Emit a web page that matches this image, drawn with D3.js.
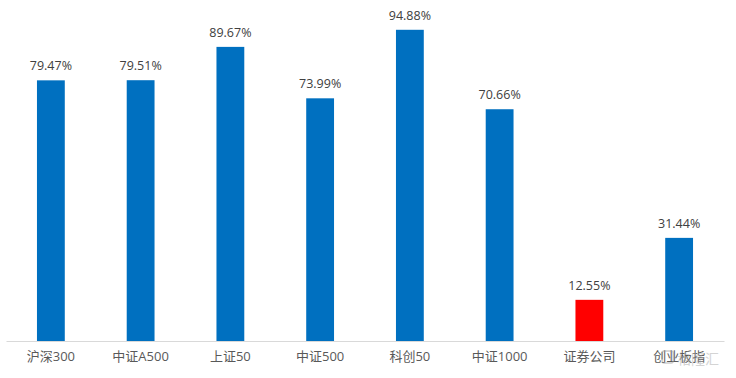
<!DOCTYPE html>
<html>
<head>
<meta charset="utf-8">
<script src="https://cdn.jsdelivr.net/npm/d3@7"></script>
<style>
  body { margin: 0; background: #fff; }
  text { font-family: "Open Sans", "Noto Sans CJK SC", sans-serif; }
</style>
</head>
<body>
<div class="chart"></div>
<script>
//Width and height
var w = 736;
var h = 378;

//Data
var categories = ["沪深300", "中证A500", "上证50", "中证500", "科创50", "中证1000", "证券公司", "创业板指"];
var values = [79.47, 79.51, 89.67, 73.99, 94.88, 70.66, 12.55, 31.44];
var highlight = ["证券公司"];

//Scales
var x = d3.scaleBand()
          .domain(categories)
          .range([6, 724])
          .paddingInner(0.69)
          .paddingOuter(0.345);

var y = d3.scaleLinear()
          .domain([0, 100])
          .range([341, 13]);

//Create SVG element
var svg = d3.select(".chart")
            .append("svg")
            .attr("width", w)
            .attr("height", h);

//Bars
svg.selectAll("rect")
  .data(values)
  .enter()
  .append("rect")
  .attr("x", function(d, i) { return x(categories[i]); })
  .attr("y", function(d) { return y(d); })
  .attr("width", x.bandwidth())
  .attr("height", function(d) { return y(0) - y(d); })
  .style("fill", function(d, i) {
    return highlight.indexOf(categories[i]) >= 0 ? "#ff0000" : "#0070c0";
  });

//Value labels
svg.selectAll("text.val")
  .data(values)
  .enter()
  .append("text")
  .attr("class", "val")
  .attr("x", function(d, i) { return x(categories[i]) + x.bandwidth() / 2; })
  .attr("y", function(d) { return y(d) - 10; })
  .attr("text-anchor", "middle")
  .style("font-size", "12.5px")
  .style("fill", "#404040")
  .text(function(d) { return d.toFixed(2) + "%"; });

//X axis
var xAxis = d3.axisBottom(x).tickSize(0).tickPadding(11);
var gx = svg.append("g")
  .attr("transform", "translate(0," + y(0) + ")")
  .call(xAxis);
gx.select(".domain").attr("stroke", "#d9d9d9").attr("stroke-width", 1.2);
gx.selectAll("text")
  .style("font-size", "13px")
  .style("fill", "#595959")
  .style("font-family", "'Open Sans', 'Noto Sans CJK SC', sans-serif");

//Watermark
var wm = svg.append("g")
  .attr("transform", "translate(" + (x("创业板指") + x.bandwidth() / 2) + "," + (y(0) + 18) + ")")
  .style("opacity", 0.5);
wm.append("rect")
  .attr("x", -17).attr("y", -8).attr("width", 11).attr("height", 12)
  .attr("rx", 2)
  .style("fill", "none")
  .style("stroke", "#999")
  .style("stroke-width", 1.5);
wm.append("text")
  .attr("x", -2).attr("y", 5)
  .style("font-size", "14px")
  .style("fill", "#aaa")
  .text("格隆汇");
</script>
</body>
</html>
